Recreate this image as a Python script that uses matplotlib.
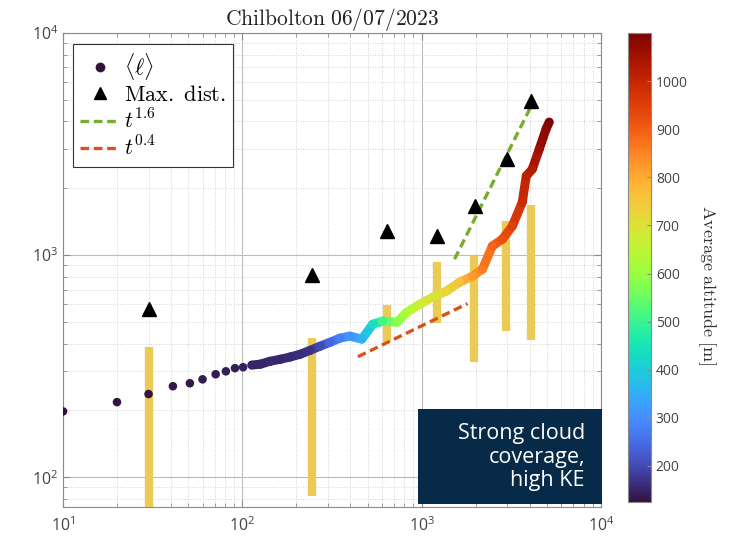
import numpy as np
import matplotlib
matplotlib.use('Agg')
import matplotlib.pyplot as plt
from matplotlib.collections import LineCollection
from matplotlib.colors import Normalize
from matplotlib.lines import Line2D
from matplotlib.patches import Rectangle
import matplotlib.cm as cm

plt.rcParams['font.family'] = ['Open Sans', 'DejaVu Sans']
plt.rcParams['mathtext.fontset'] = 'custom'
plt.rcParams['mathtext.rm'] = 'Open Sans'
plt.rcParams['mathtext.it'] = 'Open Sans:italic'

# mean pair separation <l> vs time, coloured by average altitude
t_mean = [10, 20, 30, 41, 51, 60, 71, 81, 91, 101, 113, 126, 143, 163, 185, 210, 239,
          271, 308, 350, 398, 464, 534, 607, 727, 826, 975, 1152, 1376, 1626, 1920,
          2183, 2478, 2818, 3204, 3641, 3830, 4140, 4525, 4943, 5140]
l_mean = [198, 218, 237, 257, 265, 276, 291, 300, 310, 313, 320, 323, 333, 340, 348, 358, 373,
          389, 405, 423, 432, 419, 489, 505, 499, 553, 601, 647, 689, 755, 804,
          865, 1099, 1180, 1352, 1734, 2270, 2440, 3000, 3700, 3970]
altitude = [128, 130, 132, 134, 136, 138, 140, 142, 144, 146, 148, 150, 152, 155, 158, 162, 170,
            200, 240, 280, 310, 350, 430, 510, 585, 625, 670, 700, 720, 760, 820,
            860, 890, 920, 950, 990, 1010, 1030, 1060, 1080, 1095]

# max distance and spread bars
t_max = [30, 245, 640, 1211, 1995, 3006, 4085]
l_max = [571, 813, 1282, 1219, 1664, 2704, 4943]
bar_t = [30, 245, 640, 1215, 1965, 2950, 4085]
bar_lo = [70, 82, 405, 494, 330, 457, 414]
bar_hi = [387, 423, 594, 929, 990, 1422, 1679]

# power-law guide lines (end points)
fit16_t = [1525, 4085]
fit16_l = [959, 4700]
fit04_t = [441, 1801]
fit04_l = [349, 605]

alt_min, alt_max = 125, 1100
cbar_ticks = [200, 300, 400, 500, 600, 700, 800, 900, 1000]

W, H = 743, 539
fig = plt.figure(figsize=(W / 100, H / 100), dpi=100)
ax = fig.add_axes([63 / W, 1 - 507 / H, (601 - 63) / W, (507 - 33) / H])
cax = fig.add_axes([628 / W, 1 - 502 / H, 23 / W, (502 - 33) / H])

cmap = plt.get_cmap('turbo')
norm = Normalize(alt_min, alt_max)

ax.set_xscale('log')
ax.set_yscale('log')
ax.set_xlim(10, 1e4)
ax.set_ylim(73.5, 1e4)

ax.grid(True, which='major', color='#bdbdbd', lw=0.8, ls='-')
ax.grid(True, which='minor', color='#d2d2d2', lw=0.7, ls=':')
ax.set_axisbelow(True)

bar_col = '#ebcb55'
ax.vlines(bar_t, bar_lo, bar_hi, colors=bar_col, lw=6, zorder=2)

# thick coloured line through the dense part
segs = [[(t_mean[i], l_mean[i]), (t_mean[i + 1], l_mean[i + 1])] for i in range(10, len(t_mean) - 1)]
seg_alt = [(altitude[i] + altitude[i + 1]) / 2 for i in range(10, len(t_mean) - 1)]
lc = LineCollection(segs, cmap=cmap, norm=norm, lw=6.5, capstyle='round', zorder=3)
lc.set_array(np.array(seg_alt))
ax.add_collection(lc)
ax.scatter(t_mean, l_mean, c=altitude, cmap=cmap, norm=norm, s=38, edgecolors='none', zorder=4)

ax.plot(t_max, l_max, '^', color='k', ms=10, zorder=5)

green = '#77ac30'
orange = '#d95319'
ax.plot(fit16_t, fit16_l, color=green, lw=2.4, ls=(0, (2.6, 1.4)), zorder=4)
ax.plot(fit04_t, fit04_l, color=orange, lw=2.4, ls=(0, (2.6, 1.4)), zorder=4)

for side in ax.spines.values():
    side.set_color('#8a8a8a')
ax.tick_params(which='both', direction='in', top=True, right=True, colors='#8a8a8a',
               labelcolor='#444444', labelsize=11.5)
ax.tick_params(which='major', length=5)
ax.tick_params(which='minor', length=3)
ax.tick_params(axis='x', pad=7)

ax.set_title(r'$\mathrm{Chilbolton\ 06/07/2023}$', fontsize=15.5, pad=5,
             math_fontfamily='cm', color='#222222')

handles = [
    Line2D([], [], ls='none', marker='o', color=cmap(norm(altitude[0])), ms=6),
    Line2D([], [], ls='none', marker='^', color='k', ms=8),
    Line2D([], [], color=green, lw=2.4, ls=(0, (2.6, 1.4))),
    Line2D([], [], color=orange, lw=2.4, ls=(0, (2.6, 1.4))),
]
labels = [r'$\langle\ell\rangle$', r'$\mathrm{Max.\ dist.}$', r'$t^{1.6}$', r'$t^{0.4}$']
leg = ax.legend(handles, labels, loc='upper left', bbox_to_anchor=(73 / W, 1 - 44 / H),
                bbox_transform=fig.transFigure, borderaxespad=0, fontsize=16,
                handlelength=1.8, handletextpad=0.2, labelspacing=0.15, borderpad=0.3,
                fancybox=False, framealpha=1, edgecolor='#333333')
leg.get_frame().set_linewidth(0.8)
for txt in leg.get_texts():
    txt.set_math_fontfamily('cm')

sm = cm.ScalarMappable(norm=norm, cmap=cmap)
cb = fig.colorbar(sm, cax=cax, ticks=cbar_ticks)
cb.outline.set_edgecolor('#8a8a8a')
cax.tick_params(direction='in', length=3, colors='#8a8a8a', labelcolor='#444444', labelsize=10)
fig.text(707 / W, 1 - 285 / H, r'$\mathrm{Average\ altitude\ [m]}$', rotation=270,
         ha='center', va='center', fontsize=13, math_fontfamily='cm', color='#333333')

# annotation box
fig.add_artist(Rectangle((418 / W, 1 - 504 / H), (602 - 418) / W, (504 - 409) / H,
                         transform=fig.transFigure, facecolor='#072a48', edgecolor='none', zorder=5))
fig.text(585 / W, 1 - 457 / H, 'Strong cloud\ncoverage,\nhigh KE', ha='right', va='center',
         multialignment='right', color='white', fontsize=15.5, linespacing=1.15, zorder=6)

fig.savefig('out.png', dpi=100)
